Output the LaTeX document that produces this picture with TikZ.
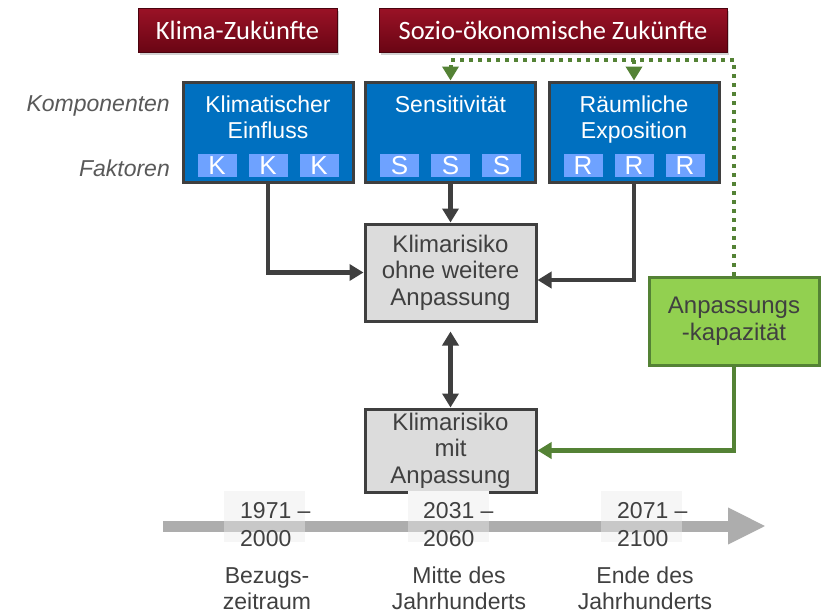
\documentclass[tikz,border=0pt]{standalone}
\usepackage{fontspec}
\setmainfont{Liberation Sans}
\newfontfamily\calfont{Carlito}
\usetikzlibrary{arrows.meta,shadows}
\definecolor{redtop}{HTML}{9A1226}
\definecolor{redbot}{HTML}{6A0514}
\definecolor{blueb}{HTML}{0070C0}
\definecolor{factorc}{HTML}{6EA2FF}
\definecolor{edgec}{HTML}{3F3F3F}
\definecolor{greyf}{HTML}{DCDCDC}
\definecolor{greenf}{HTML}{92D050}
\definecolor{greenl}{HTML}{548235}
\definecolor{txtc}{HTML}{404040}
\definecolor{labc}{HTML}{595959}
\definecolor{barc}{HTML}{ADADAD}
\definecolor{barl}{HTML}{C8C8C8}
\definecolor{hil}{HTML}{F6F6F6}
\newcommand\myfs[2]{\fontsize{#1}{#2}\selectfont}
\begin{document}
\begin{tikzpicture}[x=1pt,y=-1pt,
  tip/.style={-{Triangle[length=14pt,width=16pt]}},
  redbox/.style={draw=redbot!70!black, line width=0.6pt, top color=redtop, bottom color=redbot,
    text=white, font=\calfont\myfs{26.5}{30}, minimum height=44pt, inner sep=0pt,
    drop shadow={shadow xshift=2pt,shadow yshift=-2.5pt,opacity=0.35}},
  bluebox/.style={draw=edgec, line width=3pt, fill=blueb, minimum width=170pt, minimum height=100pt, inner sep=0pt},
  bluetext/.style={text=white, font=\myfs{23}{26}, inner sep=0pt, align=center, anchor=north},
  factor/.style={fill=factorc, minimum width=39pt, minimum height=23pt, inner sep=0pt, text=white, font=\myfs{26}{26}},
  sidelab/.style={font=\itshape\myfs{23}{26}, text=labc, inner sep=0pt, anchor=base east},
  riskbox/.style={draw=edgec, line width=3pt, fill=greyf, text=txtc, font=\myfs{24}{26.5}, align=center, minimum width=171pt, inner sep=0pt},
  adaptbox/.style={draw=greenl, line width=3pt, fill=greenf, text=txtc, font=\myfs{24}{27}, align=center, minimum width=170pt, minimum height=88pt, inner sep=0pt},
  conn/.style={draw=edgec, line width=4.5pt, tip},
  gconn/.style={draw=greenl, line width=4.5pt, tip},
  gdots/.style={draw=greenl, line width=4pt, dash pattern=on 4pt off 5pt, tip},
  hilite/.style={fill=hil, minimum width=81pt, minimum height=51pt, inner sep=0pt, outer sep=0pt},
  yeartxt/.style={text=txtc, font=\myfs{23}{28}, align=left, inner sep=0pt, anchor=north west},
  perlab/.style={text=txtc, font=\myfs{23}{26}, align=center, inner sep=0pt, anchor=north}
]
\fill[white] (0,0) rectangle (824,614);
\useasboundingbox (0,0) rectangle (824,614);

% top red boxes
\node[redbox, minimum width=199pt] (klimaz) at (237.5,30) {Klima-Zukünfte};
\node[redbox, minimum width=348pt] (sozio) at (553,30) {Sozio-ökonomische Zukünfte};

% side labels
\node[sidelab] (komp) at (170,111) {Komponenten};
\node[sidelab] (fakt) at (170,176) {Faktoren};

% blue component boxes
\node[bluebox] (klim) at (268,132) {};
\node[bluebox] (sens) at (450.5,132) {};
\node[bluebox] (raum) at (634,132) {};
\node[bluetext] (klimt) at (268,95.2) {Klimatischer\\Einfluss};
\node[bluetext] (senst) at (450.5,95.2) {Sensitivität};
\node[bluetext] (raumt) at (634,95.2) {Räumliche\\Exposition};
\foreach \b/\l/\x in {klim/K/268, sens/S/450.5, raum/R/634}{
  \foreach \i/\dx in {1/-51,2/0,3/51}{
    \node[factor] (\b-f\i) at (\x+\dx,165.5) {\l};
  }
}

% risk boxes
\node[riskbox, minimum height=97pt] (risk1) at (450.5,272.5) {Klimarisiko\\ohne weitere\\Anpassung};
\node[riskbox, minimum height=83pt] (risk2) at (450.5,450.5) {Klimarisiko\\mit\\Anpassung};

% adaptation capacity
\node[adaptbox] (adapt) at (734,321) {Anpassungs\\-kapazität};

% connectors
\draw[conn] (klim.south) |- (risk1.west);
\draw[conn] (sens.south) -- (risk1.north);
\draw[conn] (raum.south) |- ([yshift=-7.5pt]risk1.east);
\draw[conn, {Triangle[length=14pt,width=16pt]}-{Triangle[length=14pt,width=16pt]}] ([yshift=-9pt]risk1.south) -- (risk2.north);
\draw[gconn] (adapt.south) |- (risk2.east);
\coordinate (dtop) at (734,60);
\draw[gdots] (adapt.north) -- (dtop) -| (sens.north);
\draw[gdots] (raum.north |- dtop) -- (raum.north);

% timeline
\node[hilite] (h1) at (264.5,516.5) {};
\node[hilite] (h2) at (448.5,516.5) {};
\node[hilite] (h3) at (641.5,516.5) {};
\coordinate (tstart) at (163,526);
\coordinate (tend) at (766,526);
\draw[barc, line width=11pt, -{Triangle[length=38pt,width=34pt]}] (tstart) -- (tend);
\foreach \h in {h1,h2,h3}{
  \fill[barl] (\h.west |- 0,520.5) rectangle (\h.east |- 0,531.5);
}
\node[yeartxt] (y1) at (240,502.5) {1971 –\\2000};
\node[yeartxt] (y2) at (423,502.5) {2031 –\\2060};
\node[yeartxt] (y3) at (617,502.5) {2071 –\\2100};
\node[perlab] (p1) at (267,567) {Bezugs-\\zeitraum};
\node[perlab] (p2) at (459,567) {Mitte des\\Jahrhunderts};
\node[perlab] (p3) at (645,567) {Ende des\\Jahrhunderts};
\end{tikzpicture}
\end{document}
